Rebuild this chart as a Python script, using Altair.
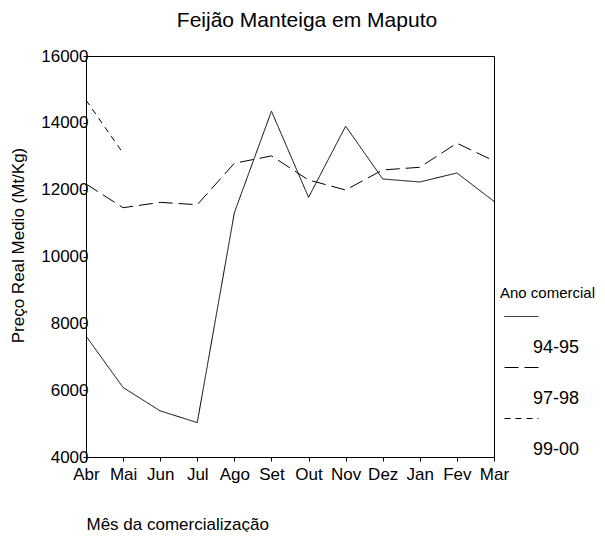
import altair as alt
import pandas as pd

months = ["Abr", "Mai", "Jun", "Jul", "Ago", "Set", "Out", "Nov", "Dez", "Jan", "Fev", "Mar"]
s_94_95 = [7620, 6080, 5380, 5030, 11310, 14350, 11770, 13900, 12320, 12230, 12500, 11650]
s_97_98 = [12170, 11460, 11620, 11550, 12790, 13010, 12290, 11990, 12590, 12670, 13390, 12860]
s_99_00 = [14680, 13090]
series_names = ["94-95", "97-98", "99-00"]
dashes = [[1, 0], [14, 6], [6, 5]]

rows = []
for name, vals in zip(series_names, [s_94_95, s_97_98, s_99_00]):
    for m, v in zip(months, vals):
        rows.append({"mes": m, "preco": v, "ano": name})
df = pd.DataFrame(rows)

FONT = "Liberation Sans"

chart = (
    alt.Chart(df)
    .mark_line(color="black", strokeWidth=1)
    .encode(
        x=alt.X(
            "mes:N",
            sort=months,
            scale=alt.Scale(domain=months, padding=0),
            axis=alt.Axis(
                title="Mês da comercialização",
                labelAngle=0,
                labelFontSize=17,
                labelFont=FONT,
                labelColor="black",
                labelPadding=5,
                tickSize=4,
                tickColor="black",
                domainColor="black",
                titleFont=FONT,
                titleFontSize=17,
                titleFontWeight="normal",
                titleColor="black",
                titleAnchor="start",
                titleAlign="left",
                titleBaseline="alphabetic",
                titleX=0,
                titleY=72,
                grid=False,
            ),
        ),
        y=alt.Y(
            "preco:Q",
            scale=alt.Scale(domain=[4000, 16000], nice=False, zero=False),
            axis=alt.Axis(
                title="Preço Real Medio (Mt/Kg)",
                values=[4000, 6000, 8000, 10000, 12000, 14000, 16000],
                format="d",
                labelFontSize=17,
                labelFont=FONT,
                labelColor="black",
                labelPadding=-5,
                tickSize=3,
                tickColor="black",
                domainColor="black",
                titleFont=FONT,
                titleFontSize=17,
                titleFontWeight="normal",
                titleColor="black",
                titleAlign="center",
                titleBaseline="alphabetic",
                titleX=-63,
                titleY=189,
                grid=False,
            ),
        ),
        strokeDash=alt.StrokeDash(
            "ano:N",
            scale=alt.Scale(domain=series_names, range=dashes),
            legend=alt.Legend(
                title="Ano comercial",
                orient="none",
                legendX=414,
                legendY=230,
                padding=0,
                titleFont=FONT,
                titleFontSize=15,
                titleFontWeight="normal",
                titleColor="black",
                titlePadding=36,
                labelFont=FONT,
                labelFontSize=18,
                labelColor="black",
                labelOffset=12,
                symbolType="M-0.6,-3.1L2.8,-3.1",
                symbolSize=400,
                symbolStrokeColor="black",
                symbolStrokeWidth=1,
                symbolFillColor="transparent",
                rowPadding=8,
            ),
        ),
    )
    .properties(
        width=408,
        height=401,
        background="white",
        title=alt.TitleParams(
            "Feijão Manteiga em Maputo",
            font=FONT,
            fontSize=21,
            fontWeight="normal",
            color="black",
            anchor="middle",
            frame="group",
            baseline="alphabetic",
            offset=-1,
            dx=17,
        ),
        autosize=alt.AutoSizeParams(type="none"),
        padding={"left": 78, "top": 48, "right": 103, "bottom": 75},
    )
    .configure_view(stroke="black", strokeWidth=1)
)

chart.save("out.html", embed_options={"renderer": "svg", "actions": False})
